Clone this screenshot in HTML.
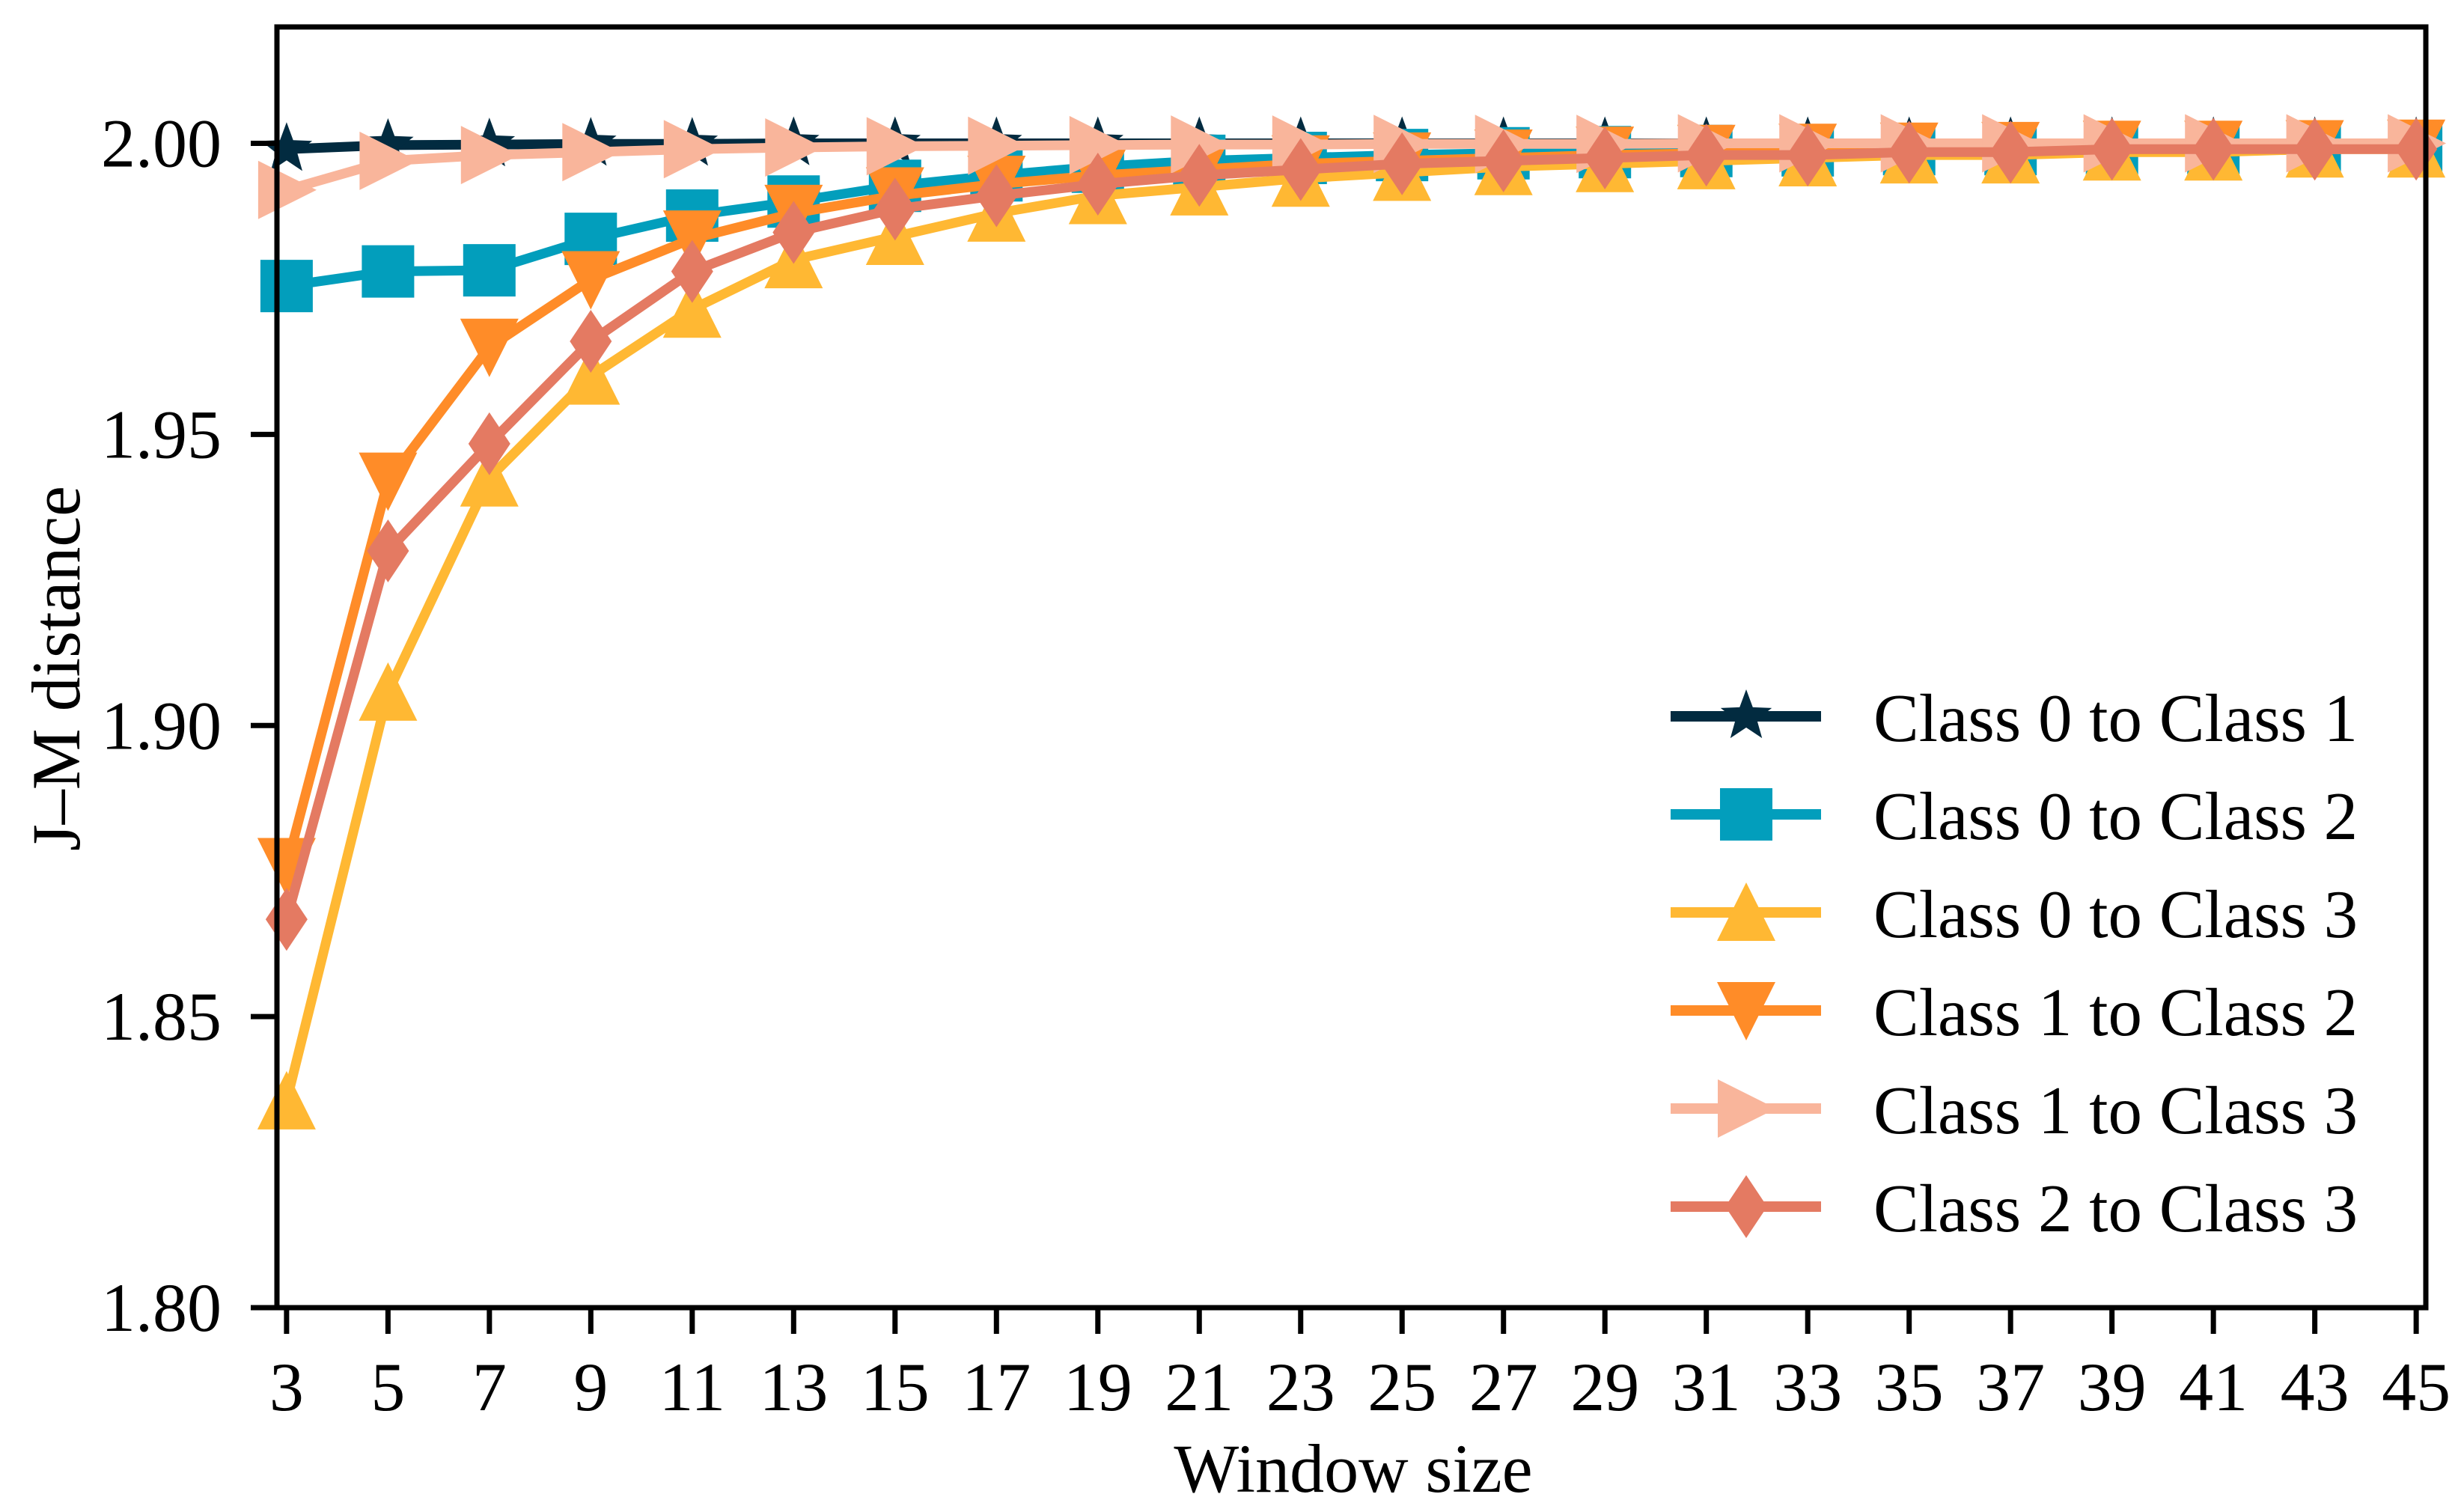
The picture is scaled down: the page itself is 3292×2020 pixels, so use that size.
<!DOCTYPE html>
<html><head><meta charset="utf-8"><style>
html,body{margin:0;padding:0;background:#fff;}
svg{display:block;}
text{font-family:"Liberation Serif",serif;fill:#000;}
</style></head><body>
<svg id="chart" width="3292" height="2020" viewBox="0 0 3292 2020" xmlns="http://www.w3.org/2000/svg">
<rect width="3292" height="2020" fill="#fff"/>
<g id="series"></g>
<g id="axes"></g>
<g id="legend"></g>
</svg>
<script>
const windowSizes = [3,5,7,9,11,13,15,17,19,21,23,25,27,29,31,33,35,37,39,41,43,45];
const class01 = [1.999,1.9997,1.9998,1.9999,1.9999,2.0,2.0,2.0,2.0,2.0,2.0,2.0,2.0,2.0,2.0,2.0,2.0,2.0,2.0,2.0,2.0,2.0];
const class02 = [1.9755,1.978,1.9782,1.9836,1.9876,1.990,1.9927,1.9945,1.996,1.997,1.9975,1.998,1.9983,1.9985,1.9987,1.9988,1.999,1.999,1.9991,1.9992,1.9993,1.9994];
const class03 = [1.8355,1.9057,1.9425,1.960,1.9715,1.980,1.984,1.988,1.991,1.9925,1.994,1.995,1.996,1.9965,1.997,1.9975,1.998,1.998,1.9985,1.9985,1.999,1.999];
const class12 = [1.8758,1.942,1.965,1.9766,1.9836,1.988,1.991,1.993,1.9945,1.9955,1.9965,1.997,1.9975,1.998,1.9983,1.9985,1.9987,1.9988,1.999,1.999,1.9991,1.9992];
const class13 = [1.992,1.997,1.998,1.9985,1.999,1.9993,1.9995,1.9996,1.9997,1.9998,1.9998,1.9999,1.9999,1.9999,2.0,2.0,2.0,2.0,2.0,2.0,2.0,2.0];
const class23 = [1.8667,1.930,1.9484,1.966,1.978,1.9847,1.9887,1.991,1.993,1.9945,1.9955,1.9965,1.997,1.9975,1.998,1.998,1.9985,1.9985,1.999,1.999,1.999,1.999];
const seriesNames = ["Class 0 to Class 1","Class 0 to Class 2","Class 0 to Class 3","Class 1 to Class 2","Class 1 to Class 3","Class 2 to Class 3"];
const yTicks = [1.80,1.85,1.90,1.95,2.00];
const yTickLabels = ["1.80","1.85","1.90","1.95","2.00"];

const NS="http://www.w3.org/2000/svg";
const PL=370, PR=3241, PT=36, PB=1747;
const XMIN=2.81, XMAX=45.19, YMIN=1.80, YMAX=2.02;
function sx(v){return PL+(v-XMIN)/(XMAX-XMIN)*(PR-PL);}
function sy(v){return PB-(v-YMIN)/(YMAX-YMIN)*(PB-PT);}
function mk(tag,attrs,parent){const e=document.createElementNS(NS,tag);for(const k in attrs)e.setAttribute(k,attrs[k]);parent.appendChild(e);return e;}

const colors=["#022b40","#029ebc","#ffb833","#ff8c28","#f9b59b","#e47a62"];
const markers=["star","square","tri-up","tri-down","tri-right","diamond"];
const allSeries=[class01,class02,class03,class12,class13,class23];

function markerPath(type,cx,cy){
  let pts;
  if(type==="square"){const h=35;pts=[[-h,-h],[h,-h],[h,h],[-h,h]];}
  else if(type==="tri-up"){pts=[[0,-40],[39,38],[-39,38]];}
  else if(type==="tri-down"){pts=[[0,40],[39,-38],[-39,-38]];}
  else if(type==="tri-right"){pts=[[40,0],[-38,39],[-38,-39]];}
  else if(type==="diamond"){pts=[[0,-42],[28,0],[0,42],[-28,0]];}
  else {pts=[];for(let i=0;i<10;i++){const r=i%2?15:36;const a=-Math.PI/2+i*Math.PI/5;pts.push([r*Math.cos(a),r*Math.sin(a)]);}}
  return "M"+pts.map(p=>(cx+p[0]).toFixed(1)+","+(cy+p[1]).toFixed(1)).join("L")+"Z";
}

const gS=document.getElementById("series");
allSeries.forEach((vals,si)=>{
  const g=mk("g",{},gS);
  
  
  const d=vals.map((v,i)=>(i?"L":"M")+sx(windowSizes[i]).toFixed(1)+","+sy(v).toFixed(1)).join("");
  const line=mk("path",{d:d,fill:"none",stroke:colors[si],"stroke-width":13,"stroke-linejoin":"round"},g);
  
  
  vals.forEach((v,i)=>{
    const m=mk("path",{d:markerPath(markers[si],sx(windowSizes[i]),sy(v)),fill:colors[si]},g);
    
    
  });
});

const gA=document.getElementById("axes");
const frame=mk("rect",{x:PL,y:PT,width:PR-PL,height:PB-PT,fill:"none",stroke:"#000","stroke-width":7},gA);


yTicks.forEach((t,i)=>{
  const y=sy(t);
  const tk=mk("line",{x1:PL-35,x2:PL,y1:y,y2:y,stroke:"#000","stroke-width":7},gA);
  
  
  const tx=mk("text",{x:296,y:y+31,"text-anchor":"end","font-size":92},gA);
  tx.textContent=yTickLabels[i];
  
  
});
windowSizes.forEach(w=>{
  const x=sx(w);
  const tk=mk("line",{x1:x,x2:x,y1:PB,y2:PB+35,stroke:"#000","stroke-width":7},gA);
  
  
  const tx=mk("text",{x:x,y:1884,"text-anchor":"middle","font-size":92},gA);
  tx.textContent=String(w);
  
  
});
const xl=mk("text",{x:1808,y:1993,"text-anchor":"middle","font-size":92},gA);
xl.textContent="Window size";


const yl=mk("text",{x:0,y:0,"text-anchor":"middle","font-size":92,transform:"translate(106,893) rotate(-90)"},gA);
yl.textContent="J–M distance";



const gL=document.getElementById("legend");


const rows=[957,1088,1219,1350,1481,1612];
seriesNames.forEach((n,i)=>{
  const g=mk("g",{},gL);
  
  
  mk("line",{x1:2232,x2:2433,y1:rows[i],y2:rows[i],stroke:colors[i],"stroke-width":14},g);
  mk("path",{d:markerPath(markers[i],2333,rows[i]),fill:colors[i]},g);
  const t=mk("text",{x:2503,y:rows[i]+33,"font-size":91},g);
  t.textContent=n;
});
</script>
</body></html>
